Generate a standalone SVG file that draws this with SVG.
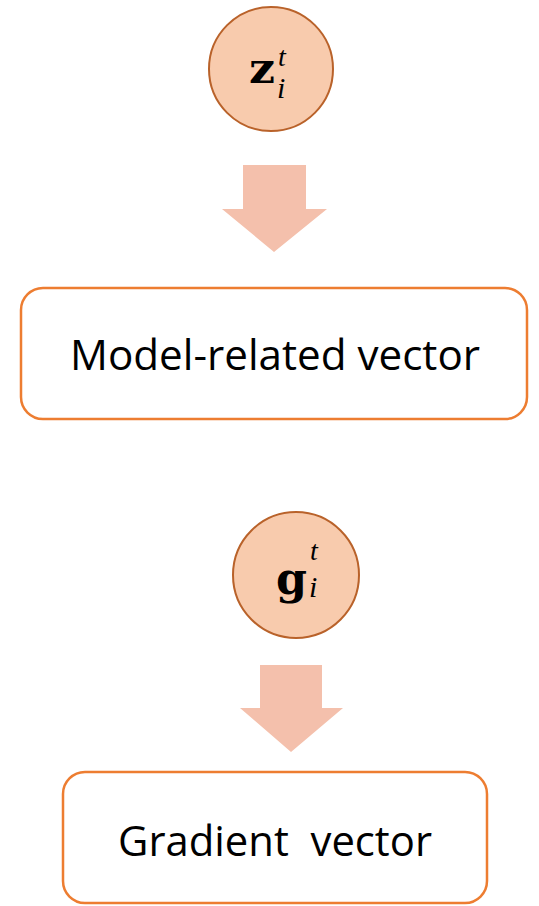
<svg xmlns="http://www.w3.org/2000/svg" width="539" height="906" viewBox="0 0 539 906">
<style>
.circ{fill:#F8CBAD;stroke:#B9622A;stroke-width:2}
.arr{fill:#F4C0AC;stroke:none}
.box{fill:#FFFFFF;stroke:#ED7D31;stroke-width:2.5}
.lbl{font-family:"Open Sans","Liberation Sans",sans-serif;font-size:42px;fill:#000;text-anchor:middle;white-space:pre}
.mb{font-family:"DejaVu Serif","Liberation Serif",serif;font-weight:bold;fill:#000}
.mi{font-family:"Liberation Serif","DejaVu Serif",serif;font-style:italic;fill:#000}
</style>
<rect width="539" height="906" fill="#FFFFFF"/>
<g id="connectors">
<polygon class="arr" points="243,165 306,165 306,209 327,209 274,252 222,209 243,209"/>
<polygon class="arr" points="260,665 322,665 322,708 343,708 291,752 240,708 260,708"/>
</g>
<g id="node-z">
<circle class="circ" cx="271" cy="69" r="62"/>
<text class="mb" x="249" y="83" font-size="42" textLength="26" lengthAdjust="spacingAndGlyphs">z</text>
<text class="mi" x="278" y="66" font-size="28">t</text>
<text class="mi" x="277" y="98" font-size="30">i</text>
</g>
<g id="node-model">
<rect class="box" x="21" y="288" width="506" height="131" rx="22"/>
<text class="lbl" x="275" y="370" textLength="410" lengthAdjust="spacingAndGlyphs">Model-related vector</text>
</g>
<g id="node-g">
<circle class="circ" cx="296" cy="575" r="63"/>
<text class="mb" x="276" y="594" font-size="44" textLength="31" lengthAdjust="spacingAndGlyphs">g</text>
<text class="mi" x="310" y="560" font-size="28">t</text>
<text class="mi" x="309" y="597" font-size="30">i</text>
</g>
<g id="node-gradient">
<rect class="box" x="63" y="772" width="424" height="131" rx="22"/>
<text class="lbl" x="275" y="856" xml:space="preserve" textLength="314" lengthAdjust="spacingAndGlyphs">Gradient  vector</text>
</g>
</svg>
